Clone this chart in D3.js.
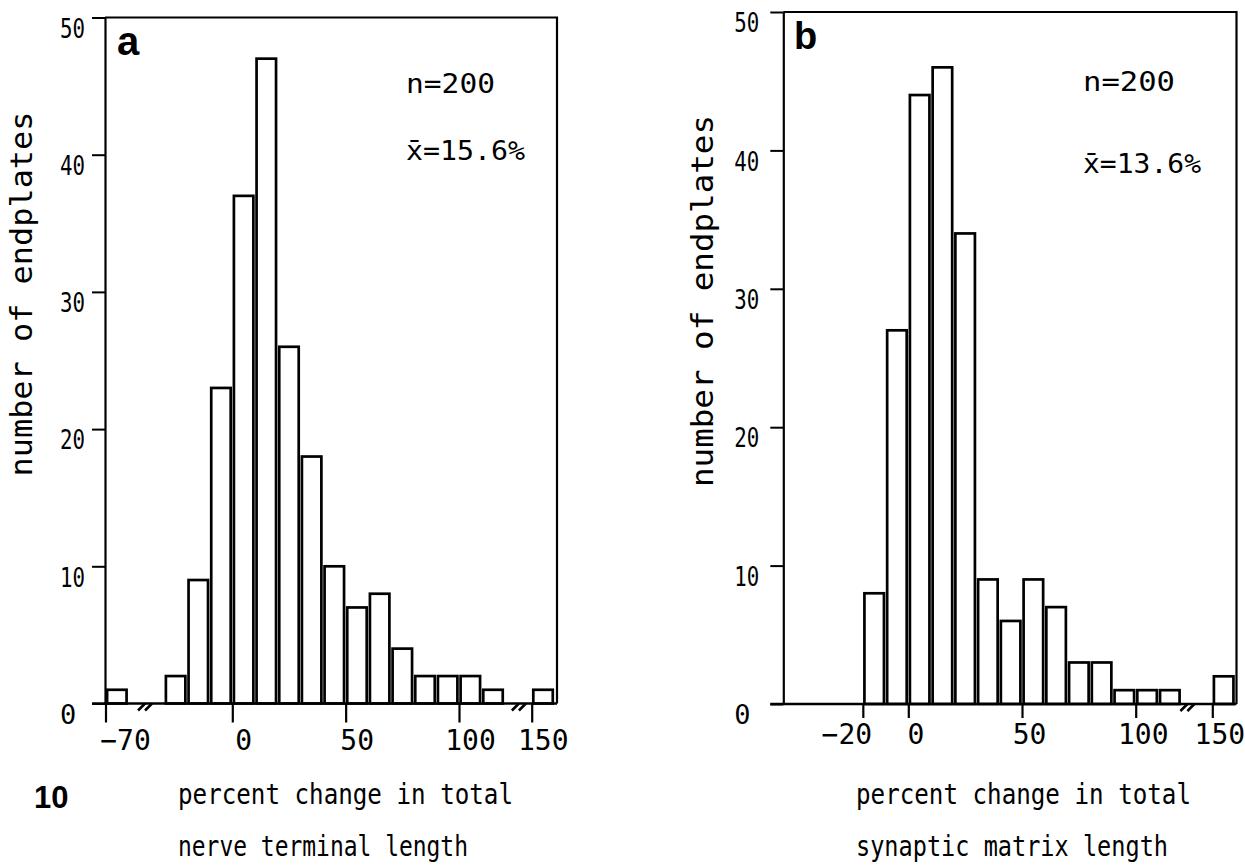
<!DOCTYPE html>
<html><head><meta charset="utf-8">
<script src="https://cdn.jsdelivr.net/npm/d3@7"></script>
<style>body{margin:0;background:#fff} svg{display:block}</style>
</head><body>
<svg id="c" width="1245" height="865"></svg>
<script>
// ---------------- data ----------------
const binStartsA = [-70,-30,-20,-10,0,10,20,30,40,50,60,70,80,90,100,110,150];
const countsA    = [1,2,9,23,37,47,26,18,10,7,8,4,2,2,2,1,1];
const binStartsB = [-20,-10,0,10,20,30,40,50,60,70,80,90,100,110,150];
const countsB    = [8,27,44,46,34,9,6,9,7,3,3,1,1,1,2];
const binWidth = 10;
const yTicks  = [0,10,20,30,40,50];
const xTicksA = [-70,0,50,100,150];
const xTicksB = [-20,0,50,100,150];
const breaksA = [-43,130];
const breaksB = [126];
const panelLetters = ["a","b"];
const nLabels = ["n=200","n=200"];
const meanLabels = ["x\u0304=15.6%","x\u0304=13.6%"];
const yTitle = "number of endplates";
const xTitleLine1 = "percent change in total";
const xTitleLine2 = ["nerve terminal length","synaptic matrix length"];
const figNumber = "10";

// ---------------- layout ----------------
const FONT = "'DejaVu Sans Mono', monospace";
const BOLD = "'Liberation Sans', Arial, sans-serif";
const svg = d3.select("#c");

const A = {
  bins: binStartsA, counts: countsA, xTicks: xTicksA, breaks: breaksA,
  axisX: 105, right: 557, top: 17.5, base: 703.5,
  xDomain: [-70,-60,-35,125,150,160],
  zero: 232.3, ppu: 2.267, leftStart: 105.5, rightStart: 531.7,
  tickLen: 19, labelBase: 750, firstDx: 19.5, otherDx: 11, yLabelDx: -45,
  letter: {x:117, y:55, size:40}, n: {x:406, y:93.3, len:89}, mean: {x:406, y:160, len:119},
  title: {x:32, y:294, len:365}, xt: {x:178, len1:335, len2:290},
  idx: 0
};
A.xRange = [A.leftStart, A.leftStart + 10*A.ppu, A.zero - 35*A.ppu, A.zero + 125*A.ppu, A.rightStart, A.rightStart + 10*A.ppu];

const B = {
  bins: binStartsB, counts: countsB, xTicks: xTicksB, breaks: breaksB,
  axisX: 783.3, right: 1236.5, top: 12, base: 704,
  xDomain: [-55,120,150,160],
  zero: 908.3, ppu: 2.274, rightStart: 1212.3,
  tickLen: 14, labelBase: 743.5, firstDx: -16.5, otherDx: 7, yLabelDx: -49,
  letter: {x:794, y:49, size:38}, n: {x:1083, y:90.6, len:92}, mean: {x:1083, y:172.7, len:118},
  title: {x:713, y:301, len:372}, xt: {x:856, len1:335, len2:312},
  idx: 1
};
B.xRange = [B.zero - 55*B.ppu, B.zero + 120*B.ppu, B.rightStart, B.rightStart + 10*B.ppu];

function panel(cfg) {
  const g = svg.append("g");
  const x = d3.scaleLinear().domain(cfg.xDomain).range(cfg.xRange);
  const y = d3.scaleLinear().domain([0,50]).range([cfg.base, cfg.top]);
  const inset = 1.6;

  // bars
  const data = cfg.bins.map((b,i)=>({x0:b, x1:b+binWidth, c:cfg.counts[i]}));
  g.selectAll("rect.bar").data(data).join("rect").attr("class","bar")
    .attr("x", d=>x(d.x0)+inset)
    .attr("width", d=>x(d.x1)-x(d.x0)-2*inset)
    .attr("y", d=>y(d.c))
    .attr("height", d=>y(0)-y(d.c))
    .attr("fill","#fff").attr("stroke","#000").attr("stroke-width",2.7);

  // y axis
  const ya = g.append("g").attr("transform",`translate(${cfg.axisX},0)`)
    .call(d3.axisLeft(y).tickValues(yTicks).tickSize(13).tickSizeOuter(0));
  ya.select(".domain").attr("stroke-width",2.2);
  ya.selectAll(".tick line").attr("stroke-width",2);
  ya.selectAll(".tick text")
    .attr("x",cfg.yLabelDx).attr("dy","0.73em")
    .attr("font-family",FONT).attr("font-size",27).attr("fill","#000")
    .attr("text-anchor","start")
    .each(function(d){ if (d>0) d3.select(this).attr("textLength",25).attr("lengthAdjust","spacingAndGlyphs"); });

  // x axis
  const xa = g.append("g").attr("transform",`translate(0,${cfg.base})`)
    .call(d3.axisBottom(x).tickValues(cfg.xTicks).tickSize(cfg.tickLen).tickSizeOuter(0));
  xa.select(".domain").remove();
  xa.selectAll(".tick line").attr("stroke-width",2.2);
  xa.selectAll(".tick text")
    .attr("y", cfg.labelBase - cfg.base).attr("dy",0)
    .attr("x",(d,i)=> i===0 ? cfg.firstDx : cfg.otherDx)
    .attr("font-family",FONT).attr("font-size",28).attr("fill","#000")
    .text(d=> d<0 ? "\u2212"+Math.abs(d) : d);

  // baseline + frame
  g.append("line").attr("x1",cfg.axisX-13).attr("x2",cfg.right)
    .attr("y1",cfg.base).attr("y2",cfg.base).attr("stroke","#000").attr("stroke-width",2.4);
  g.append("path")
    .attr("d",`M${cfg.axisX},${cfg.top}H${cfg.right}V${cfg.base}`)
    .attr("fill","none").attr("stroke","#000").attr("stroke-width",2.2);

  // axis break marks
  cfg.breaks.forEach(v=>{
    const cx = x(v);
    [-3.5,3.5].forEach(o=>{
      g.append("line")
        .attr("x1",cx+o-3.5).attr("y1",cfg.base+7)
        .attr("x2",cx+o+3.5).attr("y2",cfg.base)
        .attr("stroke","#000").attr("stroke-width",2.6);
    });
  });

  // annotations
  g.append("text").attr("x",cfg.letter.x).attr("y",cfg.letter.y)
    .attr("font-family",BOLD).attr("font-weight","bold").attr("font-size",cfg.letter.size)
    .text(panelLetters[cfg.idx]);
  g.append("text").attr("x",cfg.n.x).attr("y",cfg.n.y)
    .attr("font-family",FONT).attr("font-size",27)
    .attr("textLength",cfg.n.len).attr("lengthAdjust","spacingAndGlyphs")
    .text(nLabels[cfg.idx]);
  g.append("text").attr("x",cfg.mean.x).attr("y",cfg.mean.y)
    .attr("font-family",FONT).attr("font-size",27)
    .attr("textLength",cfg.mean.len).attr("lengthAdjust","spacingAndGlyphs")
    .text(meanLabels[cfg.idx]);

  // y title
  g.append("text")
    .attr("transform",`translate(${cfg.title.x},${cfg.title.y}) rotate(-90)`)
    .attr("text-anchor","middle")
    .attr("font-family",FONT).attr("font-size",30)
    .attr("textLength",cfg.title.len).attr("lengthAdjust","spacingAndGlyphs")
    .text(yTitle);

  // x title (two lines)
  g.append("text").attr("x",cfg.xt.x).attr("y",804)
    .attr("font-family",FONT).attr("font-size",28)
    .attr("textLength",cfg.xt.len1).attr("lengthAdjust","spacingAndGlyphs")
    .text(xTitleLine1);
  g.append("text").attr("x",cfg.xt.x).attr("y",856)
    .attr("font-family",FONT).attr("font-size",28)
    .attr("textLength",cfg.xt.len2).attr("lengthAdjust","spacingAndGlyphs")
    .text(xTitleLine2[cfg.idx]);
}

panel(A);
panel(B);

svg.append("text").attr("x",34).attr("y",808)
  .attr("font-family",BOLD).attr("font-weight","bold").attr("font-size",31)
  .text(figNumber);
</script>
</body></html>
